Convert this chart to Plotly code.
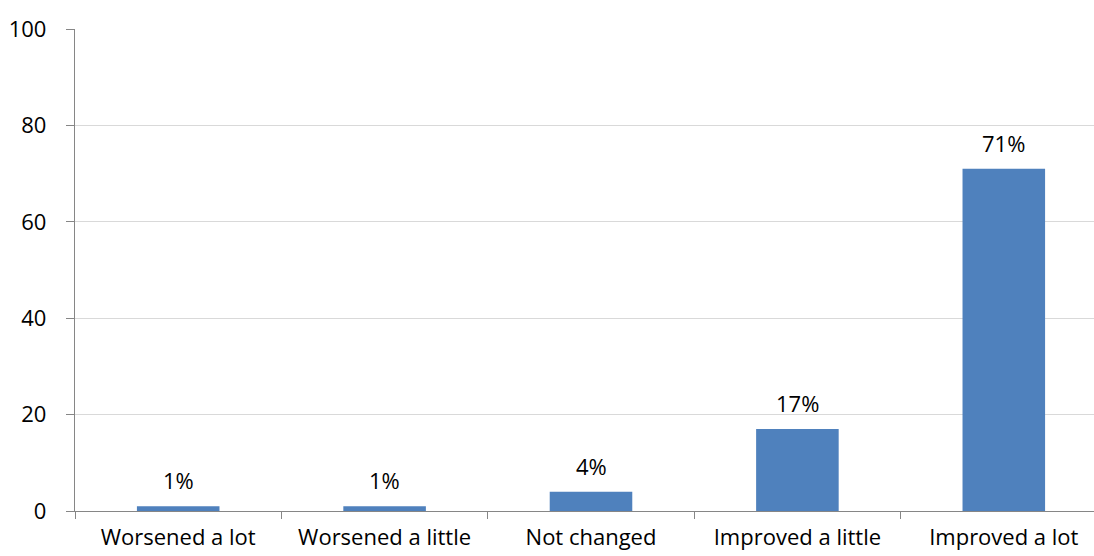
import plotly.graph_objects as go

categories = ["Worsened a lot", "Worsened a little", "Not changed", "Improved a little", "Improved a lot"]
values = [1, 1, 4, 17, 71]
labels = ["1%", "1%", "4%", "17%", "71%"]
y_ticks = [0, 20, 40, 60, 80, 100]

FONT = "Open Sans"
fig = go.Figure()
fig.add_trace(go.Bar(
    x=categories, y=values, width=0.4,
    marker=dict(color="#4F81BD", line=dict(width=0)),
    hoverinfo="skip",
))
for c, v, t in zip(categories, values, labels):
    fig.add_annotation(x=c, y=v, text=t, showarrow=False, yanchor="bottom",
                       yshift=9, font=dict(family=FONT, size=22, color="#000000"))

fig.update_layout(
    width=1094, height=556,
    margin=dict(l=75, r=0, t=29, b=45),
    paper_bgcolor="white", plot_bgcolor="white",
    showlegend=False,
    font=dict(family=FONT, size=20, color="#000000"),
    bargap=0.6,
)
fig.update_xaxes(
    type="category", range=[-0.5, 4.437],
    tickson="boundaries", ticks="outside", ticklen=7, tickcolor="#868686",
    showline=True, linecolor="#868686", linewidth=1.3,
    showgrid=False, ticklabelstandoff=6, automargin=False,
    tickfont=dict(family=FONT, size=22),
)
fig.update_yaxes(
    range=[0, 100], tickvals=y_ticks,
    ticks="outside", ticklen=8, tickcolor="#868686",
    showline=True, linecolor="#868686", linewidth=1.3,
    showgrid=True, gridcolor="#D9D9D9", gridwidth=1.3,
    zeroline=False, ticklabelstandoff=15, automargin=False,
    tickfont=dict(family=FONT, size=22),
)
fig.write_html("out.html")
